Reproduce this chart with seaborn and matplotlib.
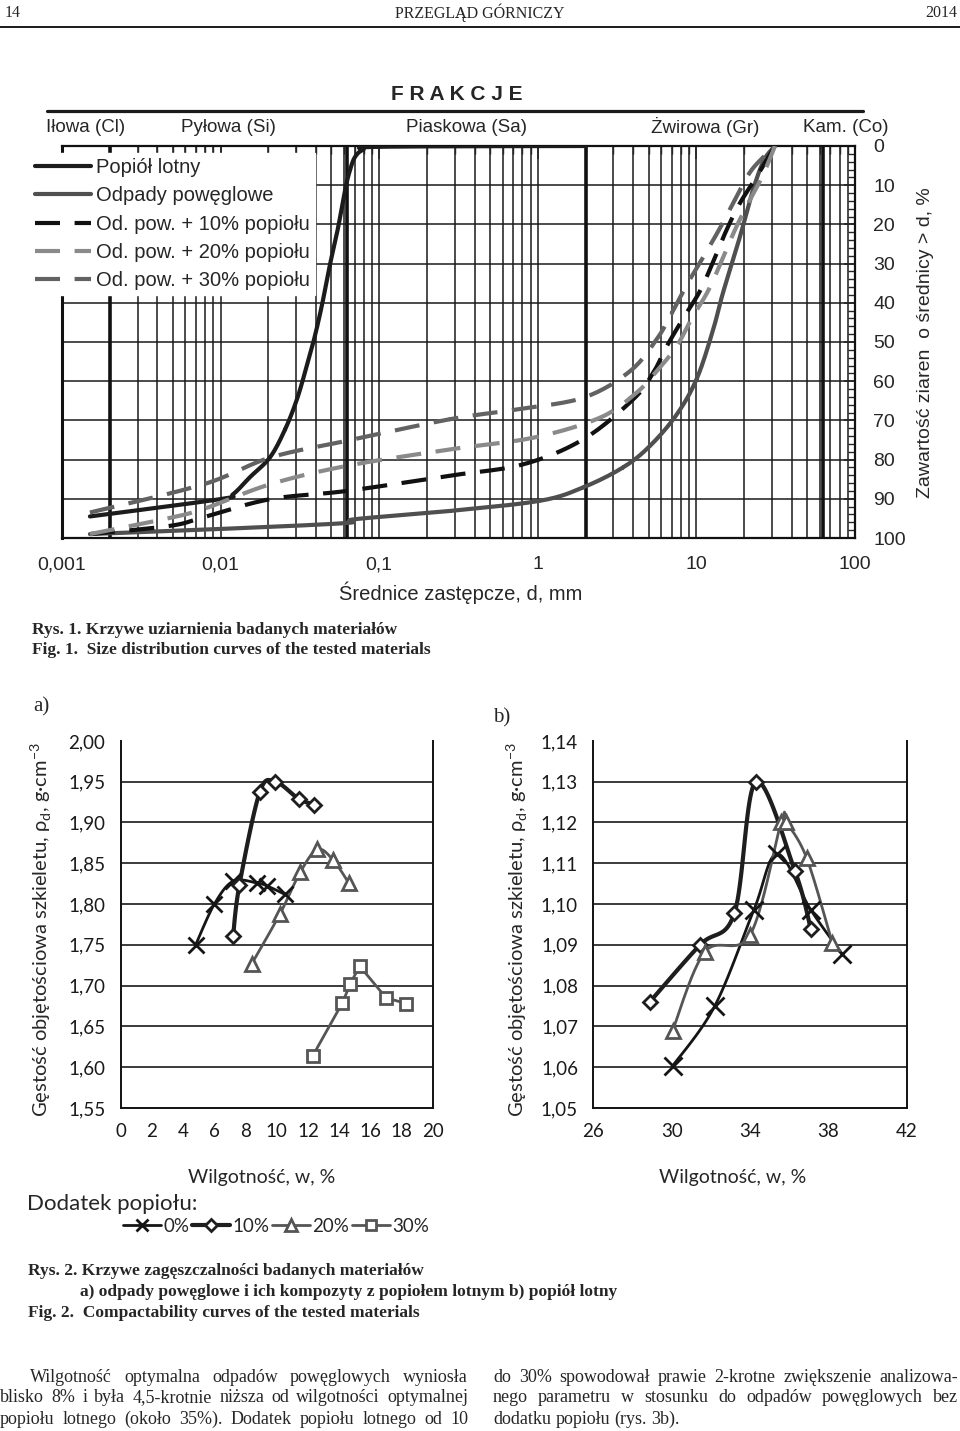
import numpy as np
import matplotlib
matplotlib.use('Agg')
import matplotlib.pyplot as plt
from matplotlib.lines import Line2D
import seaborn as sns

# ---- Rys. 1: krzywe uziarnienia, d [mm] vs zawartosc ziaren > d [%]
popiol_d = [0.0015, 0.0099, 0.0120, 0.0153, 0.0205, 0.0255, 0.0303, 0.0345, 0.0388, 0.0436, 0.0489,
            0.0550, 0.0609, 0.0655, 0.0704, 0.0791, 0.101, 2.0]
popiol_p = [94.5, 90.1, 88.8, 84.5, 79.4, 72.3, 64.6, 56.9, 49.4, 40.5, 30.3,
            20.9, 11.2, 6.1, 2.8, 1.0, 0.2, 0.0]

odpady_d = [0.0015, 0.0099, 0.0609, 0.0704, 0.2795, 1.032, 1.928, 3.445, 5.098, 7.546, 10.09,
            12.72, 14.72, 18.83, 22.75, 26.69, 31.3]
odpady_p = [99.0, 97.7, 96.2, 95.2, 93.1, 90.5, 87.1, 82.0, 76.5, 68.4, 59.2,
            47.0, 37.4, 23.1, 11.2, 3.6, 0.0]

pow10_d = [0.0015, 0.0048, 0.0078, 0.0205, 0.0624, 0.279, 0.81, 1.94, 4.0, 5.35, 6.5, 8.3, 10.5, 12.8, 15.5, 18.8, 24.0, 31.3]
pow10_p = [99.0, 96.9, 94.7, 90.1, 88.0, 84.1, 81.2, 74.8, 64.6, 57.8, 51.1, 43.8, 37.1, 29.4, 21.4, 14.6, 7.8, 0.0]

pow20_d = [0.0015, 0.0044, 0.0078, 0.0205, 0.0624, 0.279, 0.94, 2.47, 4.2, 5.6, 7.5, 9.4, 11.8, 14.4, 17.5, 21.2, 26.0, 31.3]
pow20_p = [99.0, 95.2, 92.6, 86.3, 81.6, 77.4, 74.4, 69.3, 62.9, 57.5, 51.1, 43.8, 37.1, 29.4, 21.4, 14.6, 7.8, 0.0]

pow30_d = [0.0015, 0.0078, 0.0205, 0.0624, 0.279, 0.736, 1.94, 3.8, 5.6, 7.0, 8.7, 11.1, 14.1, 17.5, 22.3, 31.3]
pow30_p = [93.5, 86.3, 79.5, 75.2, 69.7, 67.2, 64.2, 57.5, 49.4, 42.6, 35.4, 28.2, 20.9, 13.7, 6.1, 0.0]

frakcje = ['Iłowa (Cl)', 'Pyłowa (Si)', 'Piaskowa (Sa)', 'Żwirowa (Gr)', 'Kam. (Co)']
granice = [0.002, 0.063, 2.0, 63.0]
d_ticks = [0.001, 0.01, 0.1, 1, 10, 100]
d_labels = ['0,001', '0,01', '0,1', '1', '10', '100']

# ---- Rys. 2a: odpady powęglowe z dodatkiem popiołu (w [%], rho_d [g/cm3])
a0_w = [4.8, 6.0, 7.2, 8.7, 9.4, 10.5]
a0_r = [1.750, 1.800, 1.828, 1.826, 1.822, 1.812]
a10_w = [7.2, 7.6, 8.9, 9.9, 11.4, 12.4]
a10_r = [1.761, 1.823, 1.937, 1.950, 1.929, 1.922]
a20_w = [8.4, 10.2, 11.5, 12.6, 13.6, 14.6]
a20_r = [1.727, 1.788, 1.839, 1.867, 1.854, 1.826]
a30_w = [12.3, 14.2, 14.7, 15.3, 17.0, 18.3]
a30_r = [1.614, 1.679, 1.702, 1.724, 1.685, 1.678]

# ---- Rys. 2b: popiół lotny
b0_w = [30.05, 32.2, 34.2, 35.4, 37.1, 38.7]
b0_r = [1.0603, 1.0750, 1.0986, 1.1123, 1.0986, 1.0878]
b10_w = [28.9, 31.45, 33.2, 34.3, 36.3, 37.1]
b10_r = [1.0761, 1.0900, 1.0977, 1.1300, 1.1080, 1.0940]
b20_w = [30.05, 31.7, 34.0, 35.6, 35.85, 36.9, 38.2]
b20_r = [1.0690, 1.0883, 1.0924, 1.1202, 1.1200, 1.1112, 1.0905]


def gladka(x, y, sx, sy, n=24):
    # wygladzona linia (jak w Excelu) przez punkty pomiarowe
    p = np.column_stack([np.asarray(x, float) / sx, np.asarray(y, float) / sy])
    p = np.vstack([p[0], p, p[-1]])
    t = np.linspace(0, 1, n)[:, None]
    out = []
    for i in range(1, len(p) - 2):
        p0, p1, p2, p3 = p[i - 1], p[i], p[i + 1], p[i + 2]
        seg = 0.5 * (2 * p1 + (p2 - p0) * t + (2 * p0 - 5 * p1 + 4 * p2 - p3) * t ** 2
                     + (3 * p1 - p0 - 3 * p2 + p3) * t ** 3)
        out.append(seg)
    out = np.vstack(out)
    return out[:, 0] * sx, out[:, 1] * sy


W, H = 960, 1431
sns.set_style('white')
plt.rcParams['font.family'] = ['Liberation Sans', 'DejaVu Sans']
SERIF = ['Liberation Serif', 'DejaVu Serif']
CAL = ['Lato', 'DejaVu Sans']

fig = plt.figure(figsize=(W / 100, H / 100), dpi=100)


def px_axes(l, t, r, b):
    return fig.add_axes([l / W, 1 - b / H, (r - l) / W, (b - t) / H])


def tekst(x, y, s, **kw):
    kw.setdefault('va', 'center')
    return fig.text(x / W, 1 - y / H, s, **kw)


def kreska(x0, x1, y, lw):
    fig.add_artist(Line2D([x0 / W, x1 / W], [1 - y / H] * 2, color='#1a1a1a', lw=lw))


# ---- naglowek strony
tekst(5, 13, '14', family=SERIF, fontsize=11.5)
tekst(480, 13, 'PRZEGLĄD GÓRNICZY', family=SERIF, fontsize=11.5, ha='center')
tekst(957, 13, '2014', family=SERIF, fontsize=11.5, ha='right')
kreska(0, 960, 27, 1.4)

# ---- Rys. 1
ax = px_axes(62, 146, 855, 538)
ax.set_xscale('log')
kolory = [('#1c1c1c', '-'), ('#4f4f4f', '-'), ('#111111', (0, (6, 3.5))),
          ('#8a8a8a', (0, (6, 3.5))), ('#626262', (0, (6, 3.5)))]
serie = [(popiol_d, popiol_p), (odpady_d, odpady_p), (pow10_d, pow10_p),
         (pow20_d, pow20_p), (pow30_d, pow30_p)]
for (dd, pp), (c, ls) in zip(serie, kolory):
    lx, ly = gladka(np.log10(dd), pp, 5 / 793, 100 / 392, n=16)
    sns.lineplot(x=10 ** lx, y=ly, ax=ax, color=c, lw=3, linestyle=ls,
                 sort=False, estimator=None, zorder=4)
ax.set_xlim(0.001, 100)
ax.set_ylim(100, 0)
minor = [m * 10.0 ** e for e in range(-3, 2) for m in range(2, 10)]
ax.set_xticks(d_ticks, d_labels, fontsize=14)
ax.set_xticks(minor, minor=True)
ax.set_xticklabels([], minor=True)
ax.grid(True, which='both', axis='x', color='#1a1a1a', lw=1.1)
ax.set_yticks(range(0, 101, 10), [str(v) for v in range(0, 101, 10)], fontsize=14)
ax.set_yticks(range(0, 101, 2), minor=True)
ax.grid(True, which='major', axis='y', color='#1a1a1a', lw=1.1)
for g in granice:
    ax.axvline(g, color='#111111', lw=2.6, zorder=1)
ax.yaxis.tick_right()
ax.tick_params(axis='y', which='major', direction='in', length=8, width=1.2, pad=13, right=True, left=False)
ax.tick_params(axis='y', which='minor', direction='in', length=5, width=1, right=True, left=False)
ax.tick_params(axis='x', which='major', direction='in', length=9, width=1.2, top=True, bottom=False, pad=13)
ax.tick_params(axis='x', which='minor', direction='in', length=6, width=1, top=True, bottom=False)
for s in ax.spines.values():
    s.set_color('#111111')
    s.set_linewidth(1.6)
    s.set_zorder(1.5)
ax.spines['left'].set_linewidth(2.2)
ax.set_xlabel('')
ax.set_ylabel('')

uchwyty = [Line2D([], [], color=c, lw=3, linestyle=ls) for c, ls in kolory]
nazwy = ['Popiół lotny', 'Odpady powęglowe', 'Od. pow. + 10% popiołu',
         'Od. pow. + 20% popiołu', 'Od. pow. + 30% popiołu']
leg = ax.legend(uchwyty, nazwy, loc='upper left', bbox_to_anchor=(30 / W, 1 - 153 / H),
                bbox_transform=fig.transFigure, fontsize=14.5, handlelength=2.8,
                handletextpad=0.25, labelspacing=0.46, borderpad=0.25, borderaxespad=0,
                frameon=True, fancybox=False, framealpha=1, edgecolor='white', facecolor='white')
leg.set_zorder(6)

tekst(457, 95, 'F R A K C J E', fontsize=15, fontweight='bold', ha='center')
kreska(47, 863, 110.7, 2.3)
for s, x in zip(frakcje, [86, 228, 466, 705, 846]):
    tekst(x, 127, s, fontsize=13.5, ha='center')
tekst(461, 593, 'Średnice zastępcze, d, mm', fontsize=14.5, ha='center')
tekst(925, 343, 'Zawartość ziaren  o średnicy > d, %', fontsize=14, ha='center', rotation=90)

tekst(32, 630, 'Rys. 1. Krzywe uziarnienia badanych materiałów', family=SERIF, fontsize=12.5, fontweight='bold')
tekst(32, 650, 'Fig. 1.  Size distribution curves of the tested materials', family=SERIF, fontsize=12.5, fontweight='bold')
tekst(33, 707, 'a)', family=SERIF, fontsize=15)
tekst(493, 718, 'b)', family=SERIF, fontsize=15)

# ---- Rys. 2
ylab = 'Gęstość objętościowa szkieletu, ρ$_\\mathregular{d}$, g·cm$^{\\mathregular{-3}}$'


def uklad(ax, xlim, xmaj, xmin, ylim, ymaj, ymin, xl):
    ax.set_xlim(*xlim)
    ax.set_ylim(*ylim)
    ax.set_xticks(xmaj, [f'{v:g}' for v in xmaj], family=CAL, fontsize=13.5)
    ax.set_xticks(xmin, minor=True)
    ax.set_yticks(ymaj, [f'{v:.2f}'.replace('.', ',') for v in ymaj], family=CAL, fontsize=13.5)
    ax.set_yticks(ymin, minor=True)
    for v in ymaj[1:-1]:
        ax.axhline(v, color='#1a1a1a', lw=1.2, zorder=1)
    ax.tick_params(which='major', direction='inout', length=10, width=1.2, pad=6, colors='#111111')
    ax.tick_params(which='minor', direction='in', length=5, width=1, colors='#111111')
    ax.tick_params(labelcolor='#1a1a1a')
    ax.spines['top'].set_visible(False)
    for s in ['left', 'bottom', 'right']:
        ax.spines[s].set_color('#111111')
        ax.spines[s].set_linewidth(1.4)
    ax.set_ylabel(ylab, family=CAL, fontsize=14.5)
    ax.yaxis.set_label_coords(xl, 0.485)
    ax.set_xlabel('')


def seria(ax, w, r, sx, sy, c, lw, mk, ms, gladko=True):
    if gladko:
        lx, ly = gladka(w, r, sx, sy)
    else:
        lx, ly = np.asarray(w), np.asarray(r)
    sns.lineplot(x=lx, y=ly, ax=ax, color=c, lw=lw, sort=False, estimator=None, zorder=3)
    ax.plot(w, r, ls='none', marker=mk, ms=ms, mew=2, mec=c, mfc='white', zorder=4)


axa = px_axes(120.7, 740.9, 433, 1108)
sxa, sya = 20 / 313, 0.45 / 367
seria(axa, a0_w, a0_r, sxa, sya, '#151515', 2.0, 'x', 12)
seria(axa, a10_w, a10_r, sxa, sya, '#1e1e1e', 3.0, 'D', 7.5)
seria(axa, a20_w, a20_r, sxa, sya, '#555555', 2.0, '^', 10)
seria(axa, a30_w, a30_r, sxa, sya, '#555555', 2.0, 's', 9, gladko=False)
uklad(axa, (0, 20), np.arange(0, 21, 2), np.arange(0, 20.01, 0.4), (1.55, 2.00),
      np.round(np.arange(1.55, 2.001, 0.05), 2), np.round(np.arange(1.55, 2.001, 0.01), 2), -0.212)

axb = px_axes(593.3, 740.9, 906.7, 1108)
sxb, syb = 16 / 313, 0.09 / 367
seria(axb, b0_w, b0_r, sxb, syb, '#151515', 2.0, 'x', 13)
seria(axb, b10_w, b10_r, sxb, syb, '#1e1e1e', 3.0, 'D', 7.5)
seria(axb, b20_w, b20_r, sxb, syb, '#555555', 2.0, '^', 10)
uklad(axb, (26, 42), np.arange(26, 43, 4), np.arange(26, 42.01, 1), (1.05, 1.14),
      np.round(np.arange(1.05, 1.1401, 0.01), 2), np.round(np.arange(1.05, 1.1401, 0.002), 3), -0.203)

tekst(262, 1178, 'Wilgotność, w, %', family=CAL, fontsize=14, ha='center')
tekst(733, 1178, 'Wilgotność, w, %', family=CAL, fontsize=14, ha='center')
tekst(27, 1204, 'Dodatek popiołu:', family=CAL, fontsize=16)

lh = [Line2D([], [], color='#151515', lw=2, marker='x', ms=9, mew=2),
      Line2D([], [], color='#1e1e1e', lw=3, marker='D', ms=6, mew=2, mfc='white'),
      Line2D([], [], color='#555555', lw=2, marker='^', ms=8, mew=2, mfc='white'),
      Line2D([], [], color='#555555', lw=2, marker='s', ms=7, mew=2, mfc='white')]
fig.legend(lh, ['0%', '10%', '20%', '30%'], loc='center left',
           bbox_to_anchor=(123 / W, 1 - 1226 / H), ncol=4, frameon=False,
           prop={'family': CAL, 'size': 13.5}, handlelength=2.0, handletextpad=0.15,
           columnspacing=0.15, borderpad=0, borderaxespad=0)

tekst(28, 1271, 'Rys. 2. Krzywe zagęszczalności badanych materiałów', family=SERIF, fontsize=12.5, fontweight='bold')
tekst(80, 1292, 'a) odpady powęglowe i ich kompozyty z popiołem lotnym b) popiół lotny', family=SERIF, fontsize=12.5, fontweight='bold')
tekst(28, 1313, 'Fig. 2.  Compactability curves of the tested materials', family=SERIF, fontsize=12.5, fontweight='bold')

# ---- tekst artykulu (wyjustowany)
lewa = ['Wilgotność optymalna odpadów powęglowych wyniosła',
        'blisko 8% i była 4,5-krotnie niższa od wilgotności optymalnej',
        'popiołu lotnego (około 35%). Dodatek popiołu lotnego od 10']
prawa = ['do 30% spowodował prawie 2-krotne zwiększenie analizowa-',
         'nego parametru w stosunku do odpadów powęglowych bez',
         'dodatku popiołu (rys. 3b).']
renderer = fig.canvas.get_renderer()


def wiersz(x0, x1, y, linia, justuj=True):
    slowa = [tekst(x0, y, s, family=SERIF, fontsize=13) for s in linia.split(' ')]
    szer = [t.get_window_extent(renderer).width for t in slowa]
    odstep = (x1 - x0 - sum(szer)) / (len(slowa) - 1) if justuj else 4.5
    x = x0
    for t, s in zip(slowa, szer):
        t.set_x(x / W)
        x += s + odstep


for i, (l, p) in enumerate(zip(lewa, prawa)):
    y = 1377 + 21 * i
    wiersz(30 if i == 0 else 0, 468, y, l)
    wiersz(493, 958, y, p, justuj=(i < 2))

fig.savefig('out.png', dpi=100)
